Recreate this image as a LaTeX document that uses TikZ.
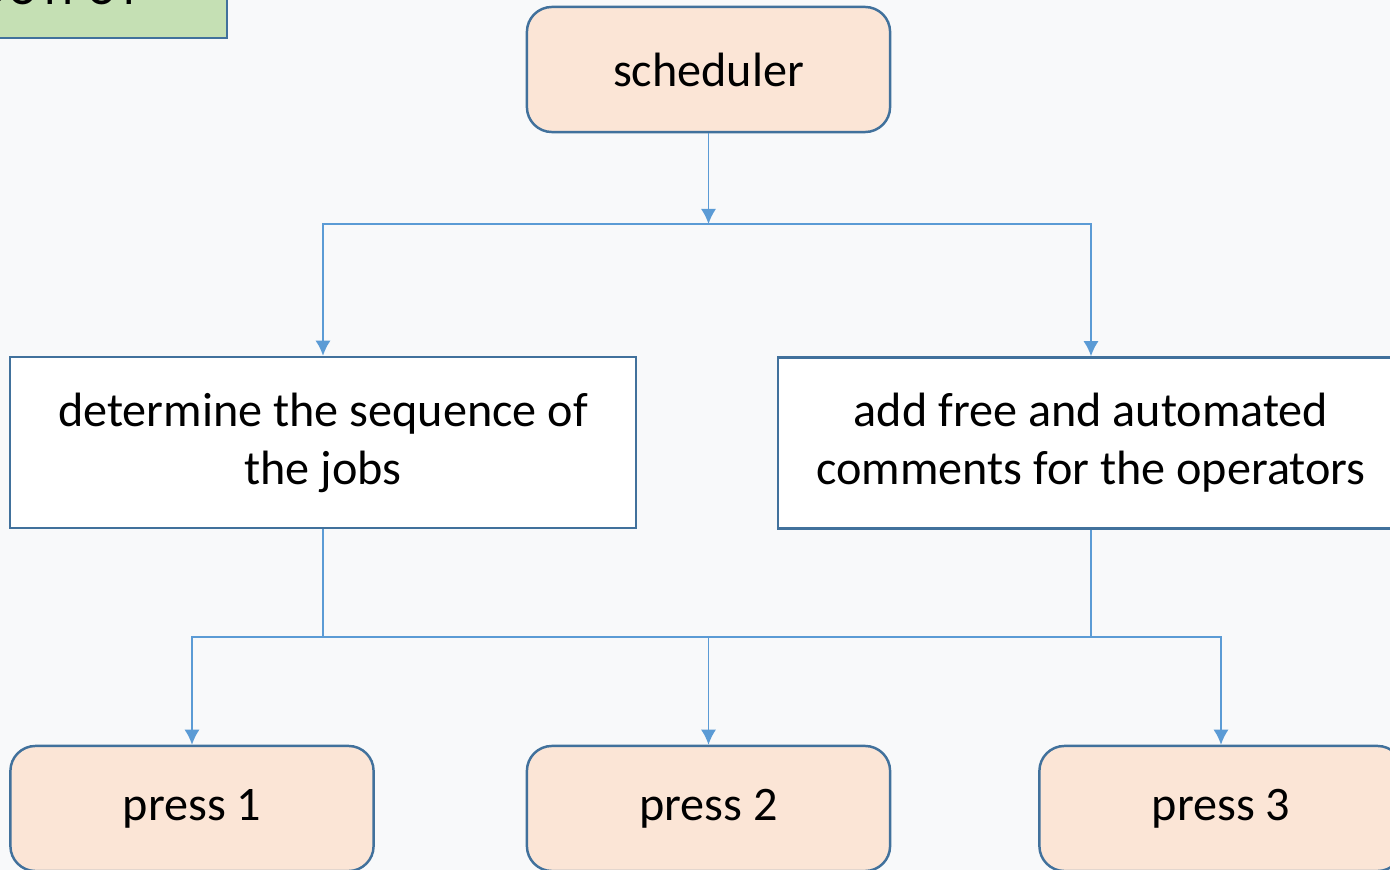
\documentclass[tikz,border=0pt]{standalone}
\usepackage{fontspec}
\setmainfont{Carlito}
\usetikzlibrary{arrows.meta}
\definecolor{peach}{HTML}{FBE5D6}
\definecolor{boxline}{HTML}{41719C}
\definecolor{linkblue}{HTML}{5B9BD5}
\definecolor{leaf}{HTML}{C5E0B4}
\definecolor{back}{HTML}{F8F9FA}
\begin{document}
\begin{tikzpicture}[x=0.01cm, y=-0.01cm,
	every node/.style={font=\fontsize{13.7}{16.5}\selectfont},
	stage/.style={draw=boxline, line width=0.7pt, fill=peach, rounded corners=0.25cm,
		minimum width=3.63cm, minimum height=1.25cm, inner sep=0pt},
	job/.style={draw=boxline, line width=0.7pt, fill=white, align=center,
		minimum width=6.26cm, minimum height=1.71cm, inner sep=0pt},
	link/.style={draw=linkblue, line width=0.45pt},
	flow/.style={link, -{Latex[length=1.5mm, width=1.5mm]}}]
			\clip (0,0) rectangle (1390,870);
			\fill[back] (0,0) rectangle (1390,870);
			% label box, cut by the page edge
			\draw[line width=0.7pt, draw=boxline, fill=leaf] (-20,-80) rectangle (227,38);
			\node[anchor=base east, inner sep=0pt] (outtext) at (142,5) {OUTPUT};
			% boxes
			\node[stage] (sched) at (708.5,69.5) {scheduler};
			\node[job] (seq) at (323,442.5) {determine the sequence of\\the jobs};
			\node[job] (note) at (1091,443) {add free and automated\\comments for the operators};
			\node[stage] (p1) at (192,808.5) {press 1};
			\node[stage] (p2) at (708.5,808.5) {press 2};
			\node[stage] (p3) at (1221,808.5) {press 3};
			% connectors
			\coordinate (split) at (708.5,224);
			\coordinate (merge) at (708.5,637);
			\draw[flow] (sched) -- (split);
			\draw[flow] (split) -| (seq);
			\draw[flow] (split) -| (note);
			\draw[link] (seq) |- (merge);
			\draw[link] (note) |- (merge);
			\draw[flow] (merge) -| (p1);
			\draw[flow] (merge) -- (p2);
			\draw[flow] (merge) -| (p3);
\end{tikzpicture}
\end{document}
